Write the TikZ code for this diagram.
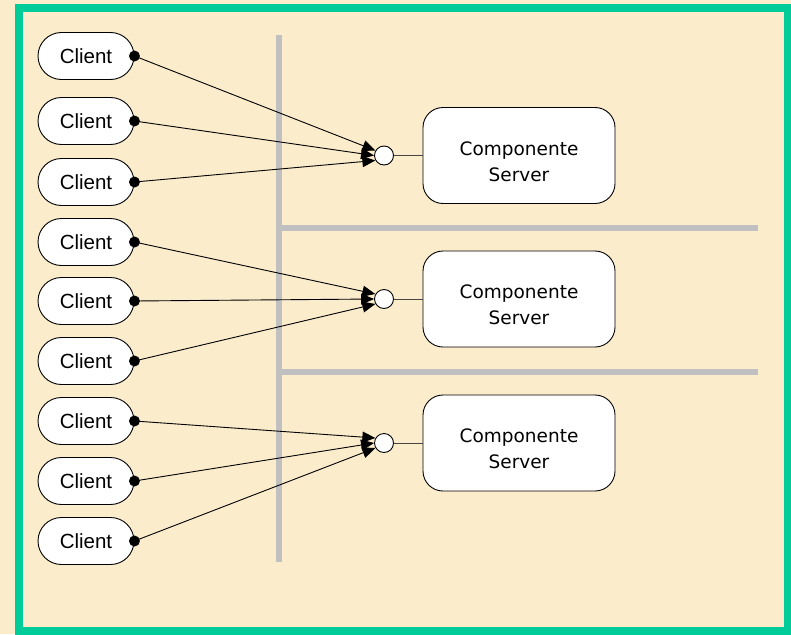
\documentclass[tikz,border=0pt]{standalone}
\usepackage{fontspec}
\setmainfont{Liberation Sans}
\newfontfamily\srvfont{DejaVu Sans}
\usetikzlibrary{arrows.meta,shapes.misc}
\definecolor{paper}{RGB}{251,236,204}
\definecolor{framegreen}{RGB}{0,204,153}
\definecolor{rail}{RGB}{192,192,192}
\definecolor{stubgray}{RGB}{70,70,70}

\begin{document}
\begin{tikzpicture}[x=1pt,y=-1pt,
  client/.style={rounded rectangle, draw=black, line width=0.9pt, fill=white,
    minimum width=96pt, minimum height=47pt, inner sep=0pt,
    font=\fontsize{20.5}{24}\selectfont},
  server/.style={draw=black, line width=0.9pt, fill=white, rounded corners=20pt,
    minimum width=192pt, minimum height=96pt, inner sep=0pt},
  srvtext/.style={align=center, inner sep=0pt, yshift=-6pt,
    font=\srvfont\fontsize{18.5}{26}\selectfont},
  port/.style={circle, draw=black, line width=0.9pt, fill=white,
    minimum size=19pt, inner sep=0pt},
  conn/.style={draw=black, line width=0.9pt, -{Triangle[length=13pt,width=11pt]}},
  stub/.style={draw=stubgray, line width=0.9pt},
  railline/.style={draw=rail, line width=6pt},
  knob/.style={fill=black}
]
\useasboundingbox (0,0) rectangle (791,634);
\fill[paper] (0,0) rectangle (791,634);
\draw[framegreen, line width=8pt] (19,8) rectangle (788,631);

% partition rails
\coordinate (vtop) at (278.5,35);
\coordinate (vbot) at (278.5,562);
\coordinate (h1a) at (281,227.5);
\coordinate (h1b) at (758,227.5);
\coordinate (h2a) at (281,371.5);
\coordinate (h2b) at (758,371.5);
\draw[railline] (vtop) -- (vbot);
\draw[railline] (h1a) -- (h1b);
\draw[railline] (h2a) -- (h2b);

% clients
\foreach \i/\y in {1/56,2/121,3/182,4/242,5/301,6/361,7/421,8/481,9/541}
  \node[client] (c\i) at (86,\y) {Client};

% server components with their provided interfaces
\foreach \k/\y in {1/155.5,2/299,3/443} {
  \node[server, label={[srvtext]center:Componente\\Server}] (s\k) at (519,\y) {};
  \node[port] (p\k) at (384,\y) {};
  \draw[stub] (p\k.east) -- (s\k.west);
}

% required interfaces wired to the ports
\foreach \i/\k/\a in {1/1/150,2/1/180,3/1/210,4/2/150,5/2/180,6/2/210,7/3/150,8/3/180,9/3/210} {
  \draw[conn] (c\i.east) -- (p\k.\a);
  \fill[knob] (c\i.east) circle (5.5pt);
}
\end{tikzpicture}
\end{document}
